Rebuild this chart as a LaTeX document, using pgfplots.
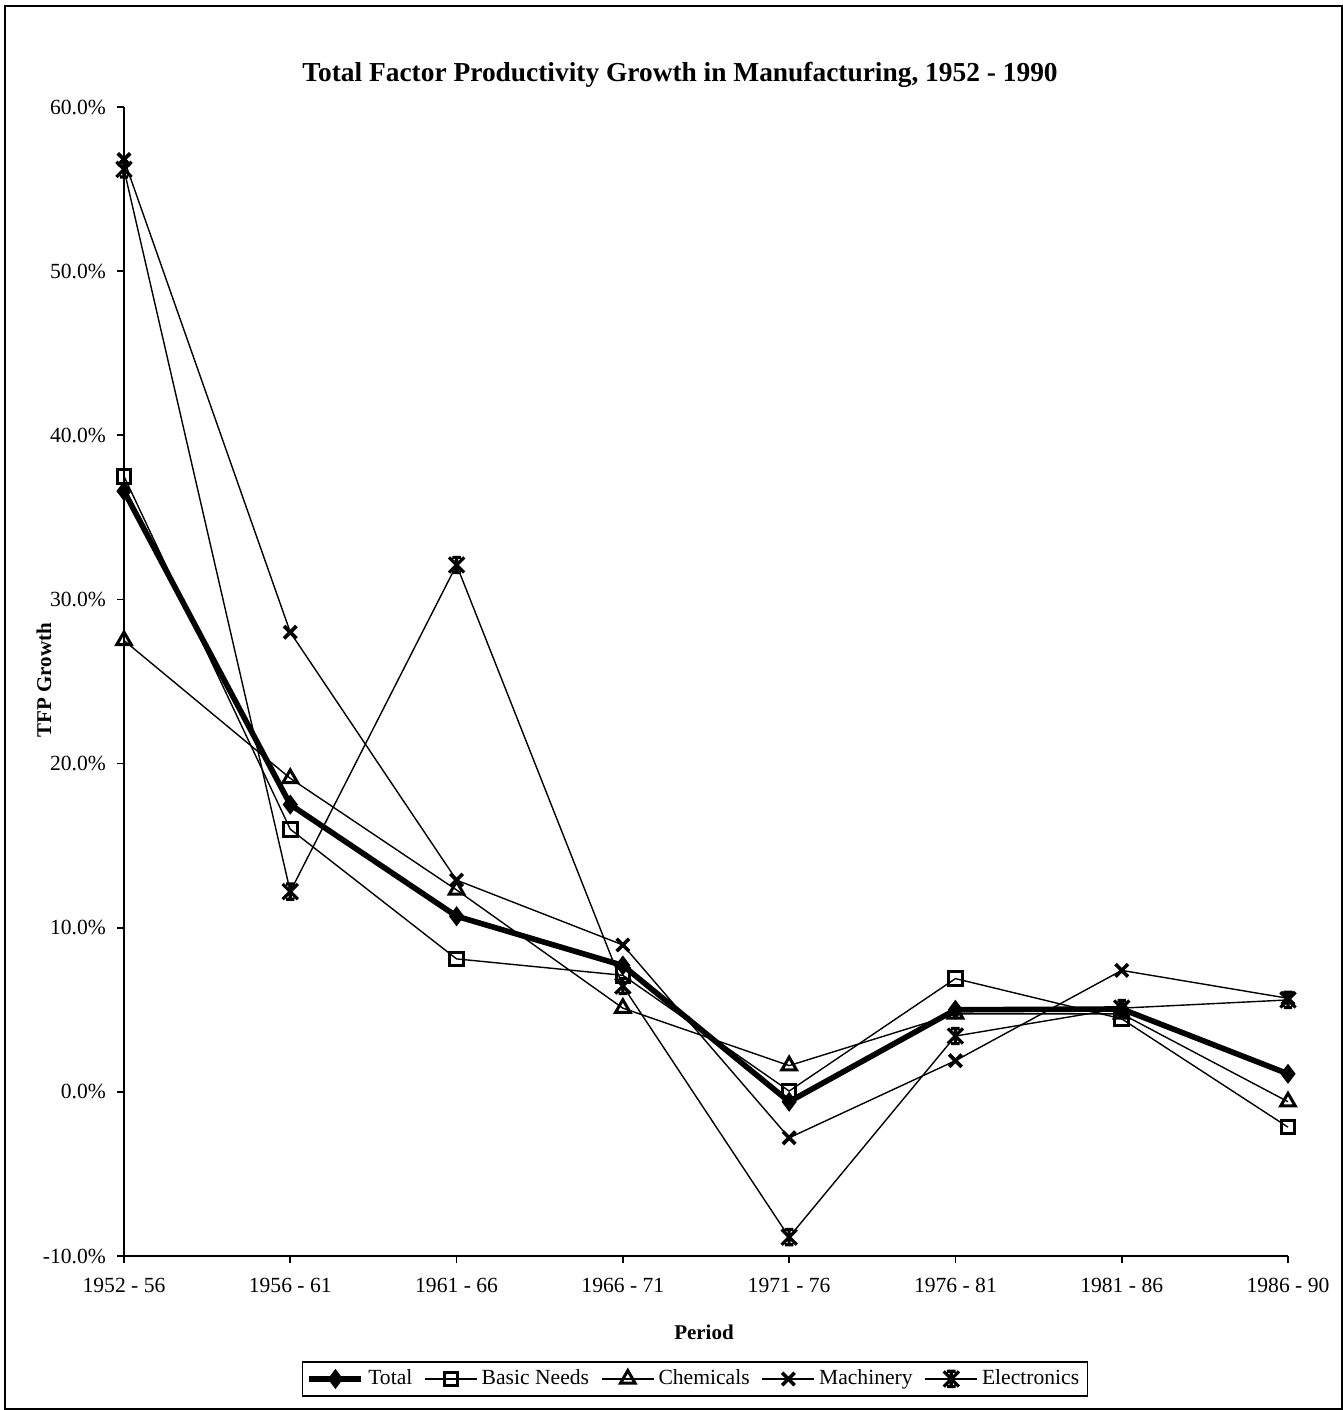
\documentclass[border=0pt]{standalone}
\usepackage{pgfplots}
\pgfplotsset{compat=1.18}
\usepackage{fontspec}
\setmainfont{Liberation Serif}
\pgfdeclareplotmark{xstar}{%
 \pgfpathmoveto{\pgfqpoint{-\pgfplotmarksize}{-\pgfplotmarksize}}%
 \pgfpathlineto{\pgfqpoint{\pgfplotmarksize}{\pgfplotmarksize}}%
 \pgfpathmoveto{\pgfqpoint{-\pgfplotmarksize}{\pgfplotmarksize}}%
 \pgfpathlineto{\pgfqpoint{\pgfplotmarksize}{-\pgfplotmarksize}}%
 \pgfpathmoveto{\pgfqpoint{0pt}{-\pgfplotmarksize}}%
 \pgfpathlineto{\pgfqpoint{0pt}{\pgfplotmarksize}}%
 \pgfpathmoveto{\pgfqpoint{-0.55\pgfplotmarksize}{-\pgfplotmarksize}}%
 \pgfpathlineto{\pgfqpoint{0.55\pgfplotmarksize}{-\pgfplotmarksize}}%
 \pgfpathmoveto{\pgfqpoint{-0.55\pgfplotmarksize}{\pgfplotmarksize}}%
 \pgfpathlineto{\pgfqpoint{0.55\pgfplotmarksize}{\pgfplotmarksize}}%
 \pgfusepathqstroke}
\begin{document}
\begin{tikzpicture}[x=1pt,y=1pt]
\useasboundingbox (0,0) rectangle (671.5,705);
\draw[line width=0.8pt] (2.5,0.5) rectangle (671,702);
\node[font=\fontsize{13.7}{16}\selectfont\bfseries] at (340,667.5) {Total Factor Productivity Growth in Manufacturing, 1952 - 1990};
\node[font=\fontsize{10.5}{12}\selectfont\bfseries, rotate=90] at (22,365) {TFP Growth};
\node[font=\fontsize{10.5}{12}\selectfont\bfseries] at (352,39) {Period};
\begin{axis}[
  at={(62pt,77pt)}, anchor=south west,
  scale only axis, width=582pt, height=574.5pt,
  xmin=0, xmax=7, ymin=-10, ymax=60,
  axis lines=left, axis line style={-, line width=0.8pt},
  xtick={0,...,7},
  xticklabels={1952 - 56,1956 - 61,1961 - 66,1966 - 71,1971 - 76,1976 - 81,1981 - 86,1986 - 90},
  ytick={-10,0,10,20,30,40,50,60},
  yticklabels={-10.0\%,0.0\%,10.0\%,20.0\%,30.0\%,40.0\%,50.0\%,60.0\%},
  tick align=outside, major tick length=3.5pt,
  tick style={black, line width=0.8pt},
  ticklabel style={font=\fontsize{10.8}{12}\selectfont},
  xticklabel style={yshift=-4pt},
  yticklabel style={xshift=-2pt},
  clip=false,
  legend columns=5,
  legend style={at={(0.4905,-0.107)}, anchor=center, draw=black, line width=0.6pt,
    font=\fontsize{10.8}{12}\selectfont, inner xsep=2pt, inner ysep=2pt,
    /tikz/every even column/.append style={column sep=4pt}},
  legend image code/.code={\draw[mark repeat=2,mark phase=2] plot coordinates {(0pt,0pt) (13pt,0pt) (26pt,0pt)};},
]
\addplot[black, line width=2.8pt, mark=diamond*, mark size=4.4pt, mark options={line width=0.8pt, solid}]
 coordinates {(0,36.6) (1,17.5) (2,10.7) (3,7.7) (4,-0.6) (5,5.0) (6,5.05) (7,1.1)};
\addlegendentry{Total}
\addplot[black, line width=0.7pt, mark=square, mark size=3.4pt, mark options={line width=1.5pt, solid}]
 coordinates {(0,37.5) (1,16.0) (2,8.1) (3,7.1) (4,0.05) (5,6.9) (6,4.45) (7,-2.15)};
\addlegendentry{Basic Needs}
\addplot[black, line width=0.7pt, mark=triangle, mark size=4.2pt, mark options={line width=1.5pt, solid}]
 coordinates {(0,27.5) (1,19.1) (2,12.3) (3,5.1) (4,1.6) (5,4.75) (6,4.75) (7,-0.6)};
\addlegendentry{Chemicals}
\addplot[black, line width=0.7pt, mark=x, mark size=4.4pt, mark options={line width=1.8pt, solid}]
 coordinates {(0,56.8) (1,28.0) (2,12.9) (3,8.95) (4,-2.8) (5,1.9) (6,7.4) (7,5.7)};
\addlegendentry{Machinery}
\addplot[black, line width=0.7pt, mark=xstar, mark size=3.8pt, mark options={line width=1.6pt, solid}]
 coordinates {(0,56.2) (1,12.2) (2,32.1) (3,6.45) (4,-8.85) (5,3.4) (6,5.1) (7,5.6)};
\addlegendentry{Electronics}
\end{axis}
\end{tikzpicture}
\end{document}
